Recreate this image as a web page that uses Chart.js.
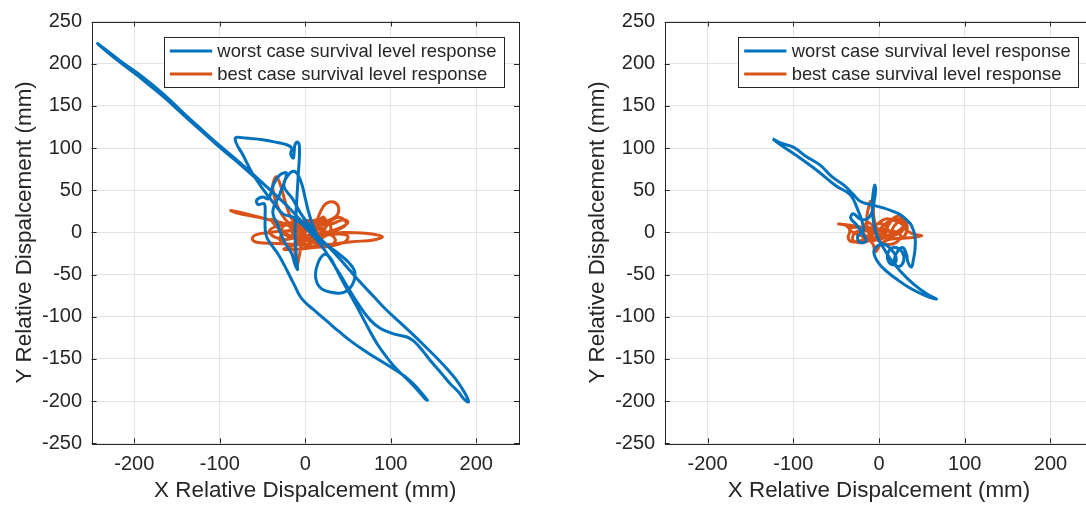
<!DOCTYPE html>
<html>
<head>
<meta charset="utf-8">
<script src="https://cdn.jsdelivr.net/npm/chart.js@4.4.0/dist/chart.umd.min.js"></script>
<style>
html, body { margin:0; padding:0; background:#fff; overflow:hidden; }
#wrap { position:relative; width:1086px; height:506px; overflow:hidden; }
#chart_left { position:absolute; left:0; top:0; }
#chart_right { position:absolute; left:560px; top:0; }
</style>
</head>
<body>
<div id="wrap">
	<canvas id="chart_left" width="560" height="506"></canvas>
	<canvas id="chart_right" width="540" height="506"></canvas>
</div>
<script>
var xTicks = [-200, -100, 0, 100, 200];
var yTicks = [-250, -200, -150, -100, -50, 0, 50, 100, 150, 200, 250];
var seriesNames = ["worst case survival level response", "best case survival level response"];
var seriesColors = ["#0072BD", "#D95319"];
var xTitle = "X Relative Dispalcement (mm)";
var yTitle = "Y Relative Dispalcement (mm)";

// left panel, worst case (x, y in mm)
var leftWorst = [
	[-60,66],[-80,84],[-98,99],[-118,117],[-140,137],[-165,160],[-190,181],[-212,198],[-232,214],[-243,224],
	[-230,214],[-212,200],[-190,184],[-165,163],[-140,139],[-118,119],[-98,101],[-78,84],[-60,68],
	[-44,53],[-30,40],[-18,28],[-6,15],[6,2],[18,-9],[29,-19],[40,-31],[52,-45],[66,-61],
	[80,-76],[95,-92],[111,-107],[127,-122],[142,-137],[155,-150],[166,-162],[176,-174],[184,-186],[189,-195],
	[191,-201],[186,-198],[179,-189],[170,-180],[160,-168],[148,-154],[137,-140],[127,-129],[119,-124],[110,-122],
	[100,-119],[88,-114],[76,-104],[64,-88],[52,-69],[42,-52],[32,-36],[22,-20],[10,-5],[-2,8],
	[-14,18],[-26,22],[-38,36],[-50,52],[-62,70],[-72,90],[-82,111],[-70,112],[-52,110],[-35,107],
	[-22,104],[-16,100],[-17,93],[-14,88],[-13,96],[-12,104],[-9,107],[-7,103],[-7,88],[-8,72],
	[-9,55],[-10,38],[-11,20],[-12,0],[-11,-20],[-10,-35],[-9,-44],[-12,-38],[-16,-25],[-25,-10],
	[-32,8],[-38,25],[-30,45],[-22,70],[-30,68],[-38,55],[-43,40],[-50,42],[-57,38],[-55,33],
	[-48,34],[-47,20],[-47,5],[-45,-6],[-38,-17],[-31,-27],[-24,-40],[-18,-52],[-12,-64],[-6,-76],
	[2,-85],[9,-91],[25,-105],[40,-118],[56,-131],[72,-142],[86,-151],[99,-159],[110,-166],[118,-172],
	[127,-180],[134,-188],[139,-194],[143,-199],[140,-197],[134,-190],[126,-181],[116,-171],[104,-159],[93,-145],
	[84,-132],[75,-116],[64,-95],[55,-78],[46,-62],[37,-45],[29,-30],[22,-26],[15,-36],[12,-52],
	[17,-65],[30,-71],[45,-71],[55,-62],[58,-48],[52,-37],[40,-26],[28,-17],[15,-5],[5,8],
	[-5,22],[-15,40],[-25,55],[-20,68],[-12,72],[-5,60],[0,40],[5,20],[12,0],[20,-15]
];

// left panel, best case
var leftBest = [
	[0,0],[-20,8],[-50,17],[-87,26],[-80,23],[-55,18],[-30,12],[-5,5],[20,-1],[45,0],
	[70,-1],[90,-5],[80,-9],[55,-11],[30,-14],[8,-16],[-15,-14],[-38,-13],[-55,-12],[-62,-8],
	[-58,-3],[-42,0],[-20,2],[0,0],[-18,10],[-28,22],[-35,38],[-38,55],[-34,66],[-29,56],
	[-24,38],[-18,20],[-10,6],[-12,-12],[-12,-28],[-10,-41],[-7,-28],[-4,-14],[5,-2],[12,10],
	[18,25],[24,34],[33,36],[39,29],[36,19],[24,13],[10,6],[-5,-2],[-20,-8],[-35,-6],
	[-42,2],[-30,8],[-10,10],[12,8],[30,10],[45,15],[50,12],[42,6],[25,0],[5,-6],
	[-15,-16],[-25,-20],[-10,-20],[10,-18],[30,-16],[45,-12],[50,-5],[40,-2],[20,-4],[0,-8],
	[-20,-5],[-28,4],[-15,12],[5,14],[25,12],[40,18],[48,10],[35,2],[15,-3],[-5,-12],
	[-22,-14],[-30,-8],[-20,2],[-2,5],[18,3],[35,-8],[28,-16],[10,-12],[-8,-6],[-15,5],
	[-5,12],[10,10],[22,2],[15,-8],[0,-14],[-12,-8],[-10,4],[3,6],[14,0],[8,-10],
	[-4,-6],[-2,4],[8,3],[12,-4],[2,-9],[-6,-2],[0,5],[10,0],[5,-6],[-3,-3],
	[3,2],[8,-2],[20,18],[25,8],[10,-5],[-25,10],[-40,15],[-20,-3],[15,-8],[30,4],
	[20,15],[0,10],[-15,0],[-5,-10],[12,-6],[20,0]
];

// right panel, worst case
var rightWorst = [
	[-124,111],[-115,106],[-100,101],[-85,90],[-69,80],[-55,66],[-41,56],[-30,45],[-22,37],[-10,33],
	[5,29],[16,25],[25,21],[33,14],[38,8],[42,-5],[42,-20],[40,-33],[38,-41],[34,-36],
	[32,-26],[28,-18],[22,-22],[18,-32],[21,-40],[27,-38],[29,-28],[24,-20],[16,-18],[10,-26],
	[12,-36],[17,-38],[20,-30],[14,-20],[6,-14],[-2,-16],[-6,-24],[0,-37],[10,-47],[20,-55],
	[36,-66],[52,-74],[67,-79],[56,-73],[40,-61],[25,-46],[13,-31],[5,-18],[-2,-5],[-6,10],
	[-8,30],[-7,45],[-5,56],[-4,50],[-6,35],[-10,20],[-20,15],[-30,22],[-33,17],[-27,10],
	[-20,0],[-15,-10],[-22,-12],[-25,-5],[-18,3],[-26,30],[-34,45],[-50,55],[-73,74],[-96,91],
	[-115,104],[-124,111]
];

// right panel, best case
var rightBest = [
	[0,0],[-15,5],[-30,8],[-47,10],[-38,8],[-34,2],[-36,-6],[-32,-11],[-22,-10],[-12,-6],
	[-14,8],[-14,20],[-12,30],[-10,37],[-7,30],[-6,18],[-3,6],[5,2],[12,10],[17,17],
	[24,19],[30,15],[33,6],[30,-4],[22,-8],[15,-3],[18,8],[26,12],[30,4],[40,-2],
	[50,-4],[40,-6],[25,-7],[10,-9],[2,-14],[-4,-23],[-7,-14],[-14,-6],[-26,-2],[-34,4],
	[-25,6],[-10,4],[2,-2],[12,2],[25,-3],[20,-12],[8,-14],[-5,-8],[-18,-12],[-30,-10],
	[-28,0],[-14,2],[-2,10],[8,16],[18,14],[28,8],[20,0],[8,-4],[-4,-2],[-12,6],
	[-20,-4],[-10,-10],[2,-6],[10,4],[4,10],[-6,8],[-10,-2],[-2,-8],[8,-6],[14,-2],
	[6,4],[-4,2],[-8,-6],[0,-4],[6,0],[-2,4],[-14,12],[-16,-4],[22,-2],[30,12],
	[15,15],[-3,0]
];

var fontFamily = "'Liberation Sans', Arial, Helvetica, sans-serif";
var inkColor = "#262626";

function toPoints(arr) {
	return arr.map(function(p) { return {x: p[0], y: p[1]}; });
}

// box round the axes with small inward ticks, like the original figure
var framePlugin = {
	id: "frame",
	afterDatasetsDraw: function(chart) {
		var ctx = chart.ctx;
		var a = chart.chartArea;
		var xs = chart.scales.x, ys = chart.scales.y;
		var tl = 5;
		ctx.save();
		ctx.strokeStyle = inkColor;
		ctx.lineWidth = 1;
		ctx.beginPath();
		xTicks.forEach(function(v) {
			var px = Math.round(xs.getPixelForValue(v)) + 0.5;
			ctx.moveTo(px, a.bottom); ctx.lineTo(px, a.bottom - tl);
			ctx.moveTo(px, a.top); ctx.lineTo(px, a.top + tl);
		});
		yTicks.forEach(function(v) {
			var py = Math.round(ys.getPixelForValue(v)) + 0.5;
			ctx.moveTo(a.left, py); ctx.lineTo(a.left + tl, py);
			ctx.moveTo(a.right, py); ctx.lineTo(a.right - tl, py);
		});
		ctx.stroke();
		ctx.strokeRect(Math.round(a.left) + 0.5, Math.round(a.top) + 0.5, Math.round(a.right - a.left), Math.round(a.bottom - a.top));
		ctx.restore();
	},
	afterDraw: function(chart) {
		// legend box in the top right corner of the axes
		var ctx = chart.ctx;
		var a = chart.chartArea;
		var fontPx = 18.4;
		ctx.save();
		ctx.font = fontPx + "px " + fontFamily;
		var tw = 0;
		chart.data.datasets.forEach(function(ds) {
			tw = Math.max(tw, ctx.measureText(ds.label).width);
		});
		var w = 53.8 + tw + 7.6;
		var h = 49.7;
		var bx = a.right - 15 - w;
		var by = a.top + 15.7;
		ctx.fillStyle = "#fff";
		ctx.fillRect(bx, by, w, h);
		ctx.strokeStyle = inkColor;
		ctx.lineWidth = 1;
		ctx.strokeRect(Math.round(bx) + 0.5, Math.round(by) + 0.5, Math.round(w), Math.round(h));
		chart.data.datasets.forEach(function(ds, i) {
			var cy = by + 13.7 + i * 23;
			ctx.strokeStyle = ds.borderColor;
			ctx.lineWidth = 3;
			ctx.beginPath();
			ctx.moveTo(bx + 6.3, cy);
			ctx.lineTo(bx + 48.6, cy);
			ctx.stroke();
			ctx.fillStyle = inkColor;
			ctx.textBaseline = "middle";
			ctx.textAlign = "left";
			ctx.fillText(ds.label, bx + 53.8, cy + 1);
		});
		ctx.restore();
	}
};

function makeChart(canvasId, worst, best, yAxisWidth, yTitlePad, padRight) {
	var ctx = document.getElementById(canvasId).getContext("2d");
	return new Chart(ctx, {
		type: "scatter",
		data: {
			datasets: [
				{ label: seriesNames[0], data: toPoints(worst), borderColor: seriesColors[0], backgroundColor: seriesColors[0], showLine: true, pointRadius: 0, borderWidth: 3, tension: 0.4 },
				{ label: seriesNames[1], data: toPoints(best), borderColor: seriesColors[1], backgroundColor: seriesColors[1], showLine: true, pointRadius: 0, borderWidth: 3, tension: 0.4 }
			]
		},
		options: {
			responsive: false,
			animation: false,
			layout: { padding: { top: 13.3, right: padRight, bottom: 0, left: 0 } },
			plugins: { legend: { display: false }, tooltip: { enabled: false } },
			scales: {
				x: {
					type: "linear", min: -250, max: 250,
					afterBuildTicks: function(scale) { scale.ticks = xTicks.map(function(v) { return {value: v}; }); },
					afterFit: function(scale) { scale.height = 62.7; },
					grid: { color: "#e3e3e3", drawTicks: false },
					border: { display: false },
					ticks: { color: inkColor, font: { family: fontFamily, size: 20 }, padding: 9, maxRotation: 0, autoSkip: false },
					title: { display: true, text: xTitle, color: inkColor, font: { family: fontFamily, size: 22.4 }, padding: { top: 0, bottom: 2 } }
				},
				y: {
					type: "linear", min: -250, max: 250,
					afterBuildTicks: function(scale) { scale.ticks = yTicks.map(function(v) { return {value: v}; }); },
					afterFit: function(scale) { scale.width = yAxisWidth; },
					grid: { color: "#e3e3e3", drawTicks: false },
					border: { display: false },
					ticks: { color: inkColor, font: { family: fontFamily, size: 20 }, padding: 9.5, autoSkip: false },
					title: { display: true, text: yTitle, color: inkColor, font: { family: fontFamily, size: 22.4 }, padding: { top: yTitlePad, bottom: 0 } }
				}
			}
		},
		plugins: [framePlugin]
	});
}

var leftChart = makeChart("chart_left", leftWorst, leftBest, 91.6, 11, 41);
var rightChart = makeChart("chart_right", rightWorst, rightBest, 104.7, 24, 6.7);
</script>
</body>
</html>
